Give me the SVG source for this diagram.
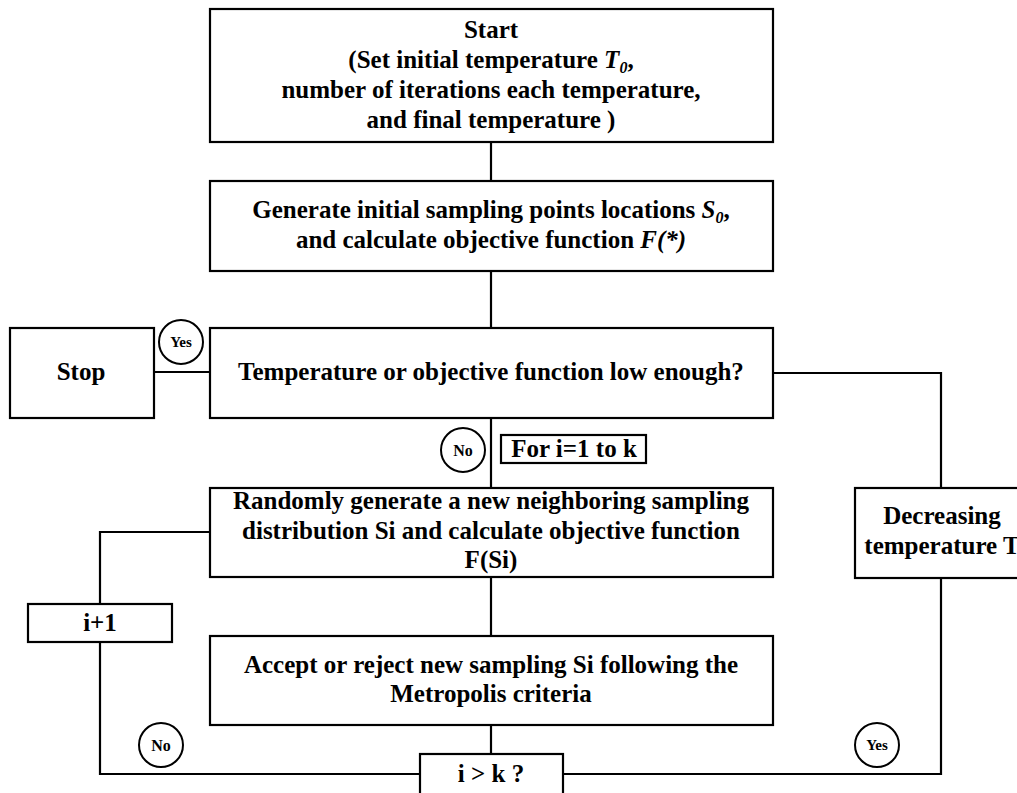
<svg xmlns="http://www.w3.org/2000/svg" width="1017" height="793" viewBox="0 0 1017 793">
<style>
.box{fill:#fff;stroke:#000;stroke-width:2.2}
.ln{fill:none;stroke:#000;stroke-width:2.2}
.c{fill:#fff;stroke:#000;stroke-width:2}
text{font-family:"Liberation Serif","Times New Roman",serif;font-weight:bold;font-size:25px;fill:#000;text-anchor:middle}
.y{font-size:15px}
.n{font-size:16px}
.i{font-style:italic}
.sub{font-size:16px;font-style:italic}
</style>
<rect width="1017" height="793" fill="#fff"/>
<g id="connectors">
<path class="ln" d="M491 143V181"/>
<path class="ln" d="M491 271V328"/>
<path class="ln" d="M491 418V488"/>
<path class="ln" d="M491 577V636"/>
<path class="ln" d="M491 725V754"/>
<path class="ln" d="M154 372H210"/>
<path class="ln" d="M773 373H941V488"/>
<path class="ln" d="M941 578V774H563"/>
<path class="ln" d="M210 532H100V604"/>
<path class="ln" d="M100 642V774H420"/>
</g>
<g id="start"><rect class="box" x="210" y="9" width="563" height="133"/>
<text x="491" y="38">Start</text>
<text x="491" y="68">(Set initial temperature <tspan class="i">T</tspan><tspan class="sub" dy="5">0</tspan><tspan dy="-5">,</tspan></text>
<text x="491" y="98">number of iterations each temperature,</text>
<text x="491" y="128">and final temperature )</text></g>
<g id="generate"><rect class="box" x="210" y="181" width="563" height="90"/>
<text x="491" y="218">Generate initial sampling points locations <tspan class="i">S</tspan><tspan class="sub" dy="5">0</tspan><tspan dy="-5">,</tspan></text>
<text x="491" y="248">and calculate objective function <tspan class="i">F(*)</tspan></text></g>
<g id="stop"><rect class="box" x="10" y="328" width="144" height="90"/>
<text x="81" y="380">Stop</text></g>
<g id="temperature"><rect class="box" x="210" y="328" width="563" height="90"/>
<text x="491" y="380">Temperature or objective function low enough?</text></g>
<g id="yes1"><circle class="c" cx="181" cy="342" r="22"/><text class="y" x="181" y="347">Yes</text></g>
<g id="no1"><circle class="c" cx="463" cy="450" r="22"/><text class="n" x="463" y="456">No</text></g>
<g id="fori"><rect class="box" x="501" y="435" width="145" height="28"/>
<text x="574" y="457">For i=1 to k</text></g>
<g id="randomly"><rect class="box" x="210" y="488" width="563" height="89"/>
<text x="491" y="509">Randomly generate a new neighboring sampling</text>
<text x="491" y="539">distribution Si and calculate objective function</text>
<text x="491" y="568">F(Si)</text></g>
<g id="decreasing"><rect class="box" x="855" y="488" width="180" height="90"/>
<text x="942" y="524">Decreasing</text>
<text x="942" y="554">temperature T</text></g>
<g id="iplus"><rect class="box" x="28" y="604" width="144" height="38"/>
<text x="100" y="631">i+1</text></g>
<g id="accept"><rect class="box" x="210" y="636" width="563" height="89"/>
<text x="491" y="673">Accept or reject new sampling Si following the</text>
<text x="491" y="702">Metropolis criteria</text></g>
<g id="no2"><circle class="c" cx="161" cy="745" r="22"/><text class="n" x="161" y="751">No</text></g>
<g id="yes2"><circle class="c" cx="877" cy="745" r="22"/><text class="y" x="877" y="750">Yes</text></g>
<g id="ik"><rect class="box" x="420" y="754" width="143" height="45"/>
<text x="491" y="782">i &gt; k ?</text></g>
</svg>
